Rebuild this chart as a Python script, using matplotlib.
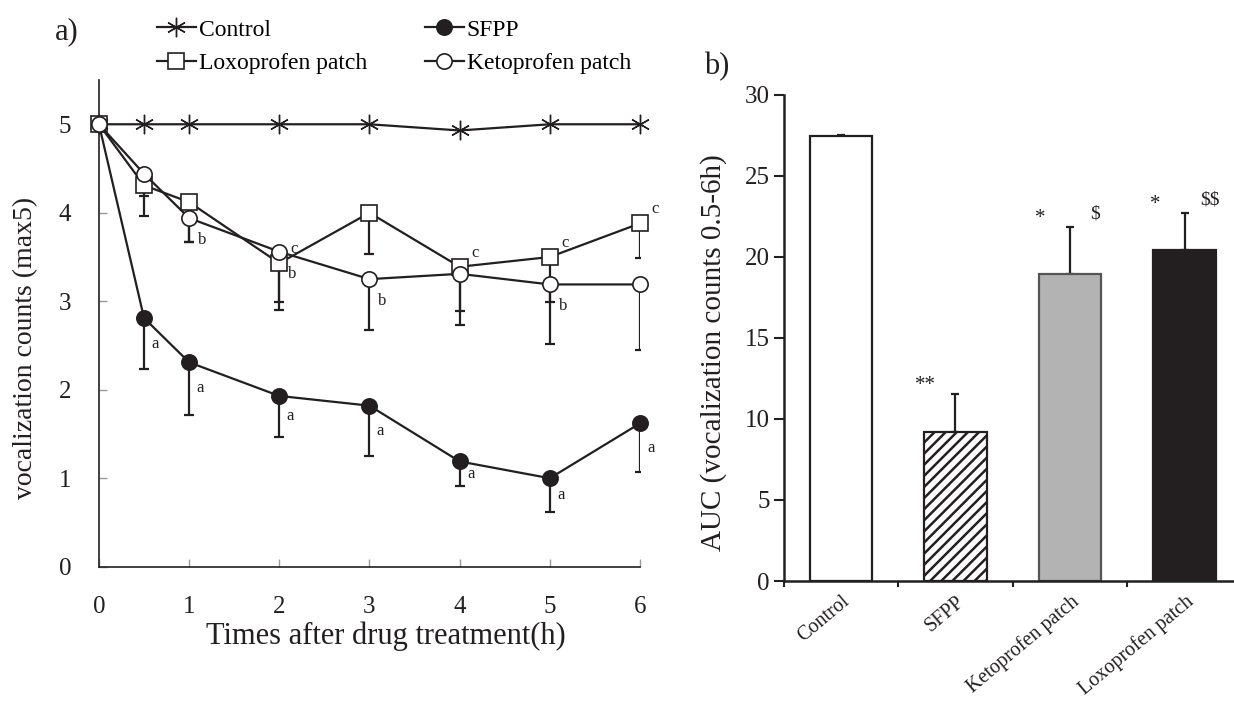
import numpy as np
import matplotlib
matplotlib.use("Agg")
import matplotlib.pyplot as plt
from matplotlib.transforms import ScaledTranslation

plt.rcParams['font.family'] = ['Liberation Serif', 'DejaVu Serif']
plt.rcParams['hatch.linewidth'] = 1.8
plt.rcParams['hatch.color'] = 'black'

# ---- panel a data (time course) ----
times = [0, 0.5, 1, 2, 3, 4, 5, 6]
control = [5, 5, 5, 5, 5, 4.93, 5, 5]
sfpp = [5, 2.81, 2.31, 1.93, 1.82, 1.19, 1.00, 1.62]
sfpp_err = [0, 0.58, 0.59, 0.46, 0.57, 0.28, 0.38, 0.55]
loxo = [5, 4.31, 4.12, 3.43, 4.00, 3.39, 3.50, 3.88]
loxo_err = [0, 0.35, 0.45, 0.44, 0.47, 0.50, 0.51, 0.39]
keto = [5, 4.44, 3.94, 3.56, 3.25, 3.31, 3.19, 3.19]
keto_err = [0, 0.25, 0.27, 0.66, 0.57, 0.58, 0.67, 0.74]

sfpp_letters = ['', 'a', 'a', 'a', 'a', 'a', 'a', 'a']
keto_letters = ['', '', 'b', 'b', 'b', '', 'b', '']
loxo_letters = ['', '', '', 'c', '', 'c', 'c', 'c']

# ---- panel b data (AUC) ----
groups = ['Control', 'SFPP', 'Ketoprofen patch', 'Loxoprofen patch']
auc = [27.45, 9.16, 18.93, 20.41]
auc_err = [0.08, 2.37, 2.92, 2.30]
star_marks = ['', '**', '*', '*']
dollar_marks = ['', '', r'\$', r'\$\$']

ink = '#231f20'

fig = plt.figure(figsize=(12.34, 7.02), dpi=100)

# ================= panel a =================
ax = fig.add_axes([0.0802, 0.1927, 0.5186 - 0.0802, 0.886 - 0.1927])

def lower_err(err):
    return [err, np.zeros(len(err))]

eb_kw = dict(fmt='none', ecolor=ink, elinewidth=1.6, capsize=3.3, capthick=1.6, zorder=2)
ax.errorbar(times, sfpp, yerr=lower_err(sfpp_err), **eb_kw)
ax.errorbar(times, loxo, yerr=lower_err(loxo_err), **eb_kw)
ax.errorbar(times, keto, yerr=lower_err(keto_err), **eb_kw)

ln_kw = dict(color=ink, lw=1.6, markersize=11, markeredgewidth=1.2, clip_on=False)
h_ctrl, = ax.plot(times, control, marker=(6, 2, 0), markeredgecolor=ink, label='Control',
                  zorder=3, **{**ln_kw, 'markersize': 14, 'markeredgewidth': 1.0})
h_sfpp, = ax.plot(times, sfpp, marker='o', markerfacecolor=ink, markeredgecolor=ink, label='SFPP', zorder=3, **ln_kw)
h_loxo, = ax.plot(times, loxo, marker='s', markerfacecolor='white', markeredgecolor=ink, label='Loxoprofen patch', zorder=4, **ln_kw)
h_keto, = ax.plot(times, keto, marker='o', markerfacecolor='white', markeredgecolor=ink, label='Ketoprofen patch', zorder=5, **ln_kw)

for t, v, e, s in zip(times, sfpp, sfpp_err, sfpp_letters):
    if s:
        ax.annotate(s, (t, v - e / 2), xytext=(11, 0), textcoords='offset pixels',
                    ha='center', va='center', fontsize=12, color=ink)
for t, v, s in zip(times, keto, keto_letters):
    if s:
        ax.annotate(s, (t, v), xytext=(13, -22), textcoords='offset pixels',
                    ha='center', va='center', fontsize=12, color=ink)
for t, v, s in zip(times, loxo, loxo_letters):
    if s:
        ax.annotate(s, (t, v), xytext=(15, 14), textcoords='offset pixels',
                    ha='center', va='center', fontsize=12, color=ink)

ax.set_xlim(0, 6)
ax.set_ylim(0, 5.5)
ax.set_xticks(range(0, 7))
ax.set_yticks(range(0, 6))
ax.spines['top'].set_visible(False)
ax.spines['right'].set_visible(False)
for sp in ['left', 'bottom']:
    ax.spines[sp].set_linewidth(1.2)
    ax.spines[sp].set_color(ink)
ax.tick_params(axis='both', direction='in', length=6, width=1, color='#9a9a9a',
               labelsize=18, labelcolor=ink)
ax.tick_params(axis='x', pad=21)
ax.tick_params(axis='y', pad=20)
ax.set_xlabel('Times after drug treatment(h)', fontsize=22, color=ink)
ax.xaxis.set_label_coords(0.53, -0.112)
ax.set_ylabel('vocalization counts (max5)', fontsize=20, color=ink)
ax.yaxis.set_label_coords(-0.112, 0.45)

fig.text(67 / 1234, 1 - 32 / 702, 'a)', fontsize=22, ha='center', va='center', color=ink)

fig.legend(handles=[h_ctrl, h_loxo, h_sfpp, h_keto], ncol=2, frameon=False,
           loc='upper left', bbox_to_anchor=(157 / 1234, 1 - 19 / 702),
           fontsize=17, handlelength=1.65, handletextpad=0.12, columnspacing=2.45,
           labelspacing=0.5, borderpad=0, borderaxespad=0)

# ================= panel b =================
bx = fig.add_axes([783.5 / 1234, 1 - 581 / 702, 1 - 783.5 / 1234, (581 - 94.5) / 702])
x = np.arange(len(groups))
faces = ['white', 'white', '#b3b3b3', ink]
edges = [ink, ink, '#555555', ink]
hatches = ['', '///', '', '']
bars = bx.bar(x, auc, width=0.545, color=faces, edgecolor=edges, linewidth=1.6, zorder=2)
for b, h in zip(bars, hatches):
    b.set_hatch(h)
bx.errorbar(x, auc, yerr=[np.zeros(len(auc)), auc_err], fmt='none', ecolor=ink,
            elinewidth=1.6, capsize=3, capthick=1.6, zorder=1)

for i, (v, e, s, d) in enumerate(zip(auc, auc_err, star_marks, dollar_marks)):
    if s:
        bx.text(i - 0.26, v + e + 0.5, s, fontsize=15, ha='center', va='center', color=ink)
    if d:
        bx.text(i + 0.22, v + e + 0.8, d, fontsize=14, ha='center', va='center', color=ink)

bx.set_xlim(-0.5, 3.43)
bx.set_ylim(0, 30)
bx.set_yticks(range(0, 31, 5))
bx.set_xticks(x)
bx.set_xticklabels(groups, rotation=40, ha='right', rotation_mode='anchor', fontsize=14.5, color=ink)
shift = ScaledTranslation(8 / 100, 0, fig.dpi_scale_trans)
for lbl in bx.get_xticklabels():
    lbl.set_transform(lbl.get_transform() + shift)
bx.set_xticks(x - 0.5, minor=True)
bx.tick_params(axis='x', which='major', length=0, pad=8)
bx.tick_params(axis='x', which='minor', direction='out', length=4, width=1.5, color=ink)
bx.tick_params(axis='y', direction='out', length=7, width=1.5, color=ink, labelsize=18,
               labelcolor=ink, pad=3)
bx.spines['top'].set_visible(False)
bx.spines['right'].set_visible(False)
for sp in ['left', 'bottom']:
    bx.spines[sp].set_linewidth(1.8)
    bx.spines[sp].set_color(ink)
bx.set_ylabel('AUC (vocalization counts 0.5-6h)', fontsize=21, color=ink)
bx.yaxis.set_label_coords(-0.125, 0.47)

fig.text(717 / 1234, 1 - 67 / 702, 'b)', fontsize=22, ha='center', va='center', color=ink)

fig.savefig('out.png', dpi=100)
